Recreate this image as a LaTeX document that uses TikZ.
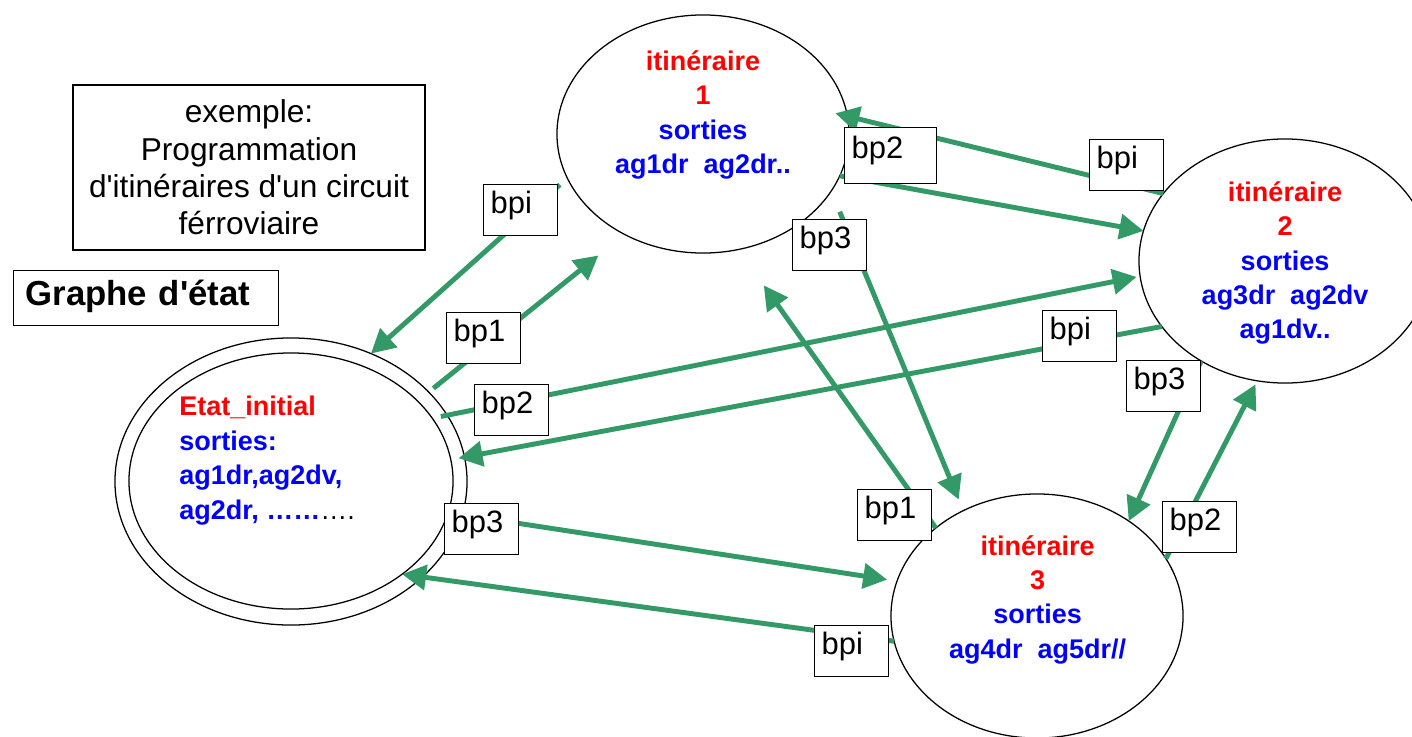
\documentclass[tikz,border=0pt]{standalone}
\usepackage{fontspec}
\newfontfamily\ar{Liberation Sans}
\usetikzlibrary{shapes.geometric,arrows.meta}
\definecolor{grn}{RGB}{51,153,102}
\begin{document}
\begin{tikzpicture}[x=0.025cm,y=-0.025cm,
  st/.style={ellipse,draw,line width=0.9pt,inner sep=0pt,outer sep=0pt},
  etxt/.style={inner sep=0pt,align=center,text=blue,font=\ar\bfseries\fontsize{19.2}{24.5}\selectfont},
  arr/.style={draw=grn,line width=3.5pt,-{Triangle[length=0.6cm,width=0.62cm]}},
  lbl/.style={draw,fill=white,line width=0.9pt,anchor=north west,text width=1.5cm,
    inner xsep=0.175cm,inner ysep=0pt,text height=0.73cm,text depth=0.55cm,align=left,
    font=\ar\fontsize{22}{26}\selectfont}]
\clip (0,0) rectangle (1412,736);
\fill[white] (0,0) rectangle (1412,736);
% states
\node[st,minimum width=8.8cm,minimum height=7.175cm] (I) at (291,481.5) {};
\node[st,minimum width=8.1cm,minimum height=6.4cm] (Ii) at (291,481) {};
\node[st,minimum width=7.3cm,minimum height=5.95cm] (A) at (703,134) {};
\node[st,minimum width=7.3cm,minimum height=6.1cm] (B) at (1285,261) {};
\node[st,minimum width=7.3cm,minimum height=6.1cm] (C) at (1037,616) {};
% transitions
\draw[arr,shorten <=0.25cm] (A.198.1) -- (I.58.2);
\draw[arr,shorten <=0.15cm,shorten >=0.84cm] (I.33.7) -- (A.232.5);
\draw[arr,shorten <=-0.16cm,shorten >=0.09cm] (I.23.3) -- (B.186.8);
\draw[arr,shorten >=-0.15cm] (B.208.4) -- (I.8.35);
\draw[arr,shorten >=0.25cm] (I.-11.7) -- (C.166.55);
\draw[arr] (C.190.57) -- (Ii.-40.1);
\draw[arr,shorten >=1.1cm] (C.139.4) -- (A.-73.6);
\draw[arr,shorten <=0.56cm,shorten >=0.3cm] (A.-24.55) -- (C.125.35);
\draw[arr] (A.-17.7) -- (B.168.9);
\draw[arr,shorten >=-0.31cm] (B.151.8) -- (A.7.1);
\draw[arr] (B.230.6) -- (C.46.85);
\draw[arr,shorten >=0.1cm] (C.24.1) -- (B.257.3);
% labels
\node[lbl] (l1) at (483,184) {bpi};
\node[lbl] (l2) at (446,312) {bp1};
\node[lbl] (l3) at (474,384) {bp2};
\node[lbl] (l4) at (444,503) {bp3};
\node[lbl] (l5) at (814,625) {bpi};
\node[lbl] (l6) at (857,489) {bp1};
\node[lbl] (l7) at (792,219) {bp3};
\node[lbl,text width=1.95cm,text height=0.775cm,text depth=0.625cm] (l8) at (844,127) {bp2};
\node[lbl] (l9) at (1089,139) {bpi};
\node[lbl] (l10) at (1042,310) {bpi};
\node[lbl] (l11) at (1126,360) {bp3};
\node[lbl] (l12) at (1162,501) {bp2};
% state texts
\node[etxt,align=left,anchor=west] (tI) at (179,460.7)
  {\textcolor{red}{Etat\_initial}\\sorties:\\ag1dr,ag2dv,\\ag2dr, ……\textcolor{black}{\mdseries ….}};
\node[etxt] (tA) at (703,115) {\textcolor{red}{itinéraire}\\\textcolor{red}{1}\\sorties\\ag1dr\ \ ag2dr..};
\node[etxt] (tB) at (1285,263) {\textcolor{red}{itinéraire}\\\textcolor{red}{2}\\sorties\\ag3dr\ \ ag2dv\\ag1dv..};
\node[etxt] (tC) at (1037.7,599.7) {\textcolor{red}{itinéraire}\\\textcolor{red}{3}\\sorties\\ag4dr\ \ ag5dr//};
% title boxes
\node[draw,line width=0.9pt,minimum width=8.8cm,minimum height=4.125cm,align=center,
  font=\ar\fontsize{22.5}{26.5}\selectfont] (ex) at (249,167.5)
  {exemple:\\Programmation\\d'itinéraires d'un circuit\\férroviaire};
\node[draw,line width=0.9pt,anchor=north west,text width=6.025cm,inner xsep=0.3cm,inner ysep=0pt,
  text height=0.875cm,text depth=0.5cm,align=left,
  font=\ar\bfseries\fontsize{24.7}{28}\selectfont] (gr) at (13,270) {Graphe d'état};
\end{tikzpicture}
\end{document}
